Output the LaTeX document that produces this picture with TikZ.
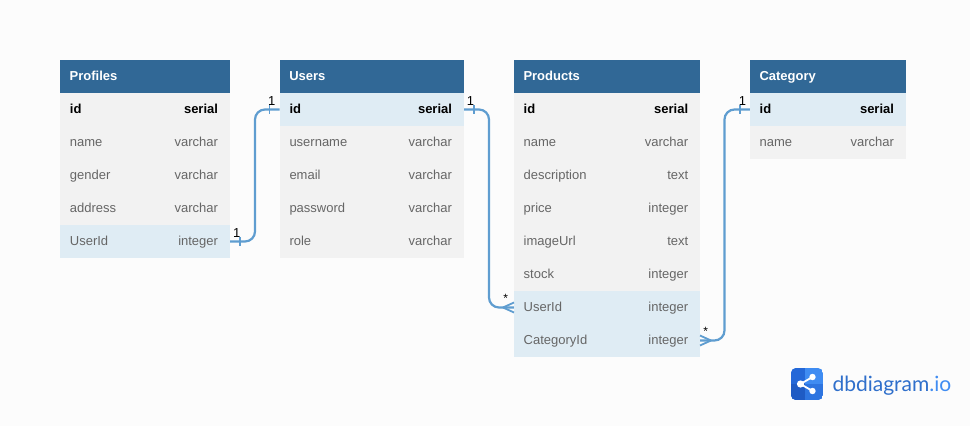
\documentclass[tikz,border=0pt]{standalone}
\usepackage{fontspec}
\setmainfont{Liberation Sans}
\newfontfamily\logofont{Lato}
\definecolor{bgc}{HTML}{FCFCFC}
\definecolor{headc}{HTML}{316896}
\definecolor{rowc}{HTML}{F2F2F2}
\definecolor{fkc}{HTML}{DFECF4}
\definecolor{txtc}{HTML}{666666}
\definecolor{linkc}{HTML}{5F9DD0}
\definecolor{logoa}{HTML}{2468D8}
\definecolor{logob}{HTML}{1F5BC4}
\definecolor{logoc}{HTML}{3F8CF2}
\definecolor{logod}{HTML}{2E75E0}
\definecolor{logot}{HTML}{2F6FCB}
\tikzset{
  x=1pt,y=-1pt,
  every node/.style={inner sep=0pt,outer sep=0pt},
  headbox/.style={fill=headc,anchor=north west,minimum height=33pt},
  rowbox/.style={fill=rowc,anchor=north west,minimum height=33pt},
  fkbox/.style={fill=fkc,anchor=north west,minimum height=33pt},
  headtext/.style={text=white,font=\fontsize{13}{13}\selectfont\bfseries,anchor=base west},
  nametext/.style={text=txtc,font=\fontsize{13}{13}\selectfont,anchor=base west},
  typetext/.style={text=txtc,font=\fontsize{13}{13}\selectfont,anchor=base east},
  pkname/.style={text=black,font=\fontsize{13}{13}\selectfont\bfseries,anchor=base west},
  pktype/.style={text=black,font=\fontsize{13}{13}\selectfont\bfseries,anchor=base east},
  link/.style={draw=linkc,line width=2.2pt,rounded corners=10pt},
  endmark/.style={draw=linkc,line width=1.8pt},
  cardtext/.style={text=black,font=\fontsize{13}{13}\selectfont},
  startext/.style={text=black,font=\fontsize{12}{12}\selectfont}
}
% #1 table id, #2 x, #3 width, #4 title
\newcommand{\tblhead}[4]{%
  \node[headbox,minimum width=#3pt] (#1) at (#2,60) {};
  \node[headtext] (#1-t) at (#2+9.7,80) {#4};
}
% #1 node, #2 x, #3 width, #4 row index, #5 box style, #6 name style, #7 type style, #8 name, #9 type
\newcommand{\tblrow}[9]{%
  \node[#5,minimum width=#3pt] (#1) at (#2,60+33*#4) {};
  \node[#6] (#1-n) at (#2+9.9,80+33*#4) {#8};
  \node[#7] (#1-y) at (#2+#3-12,80+33*#4) {#9};
}
\begin{document}
\begin{tikzpicture}
\path[use as bounding box,fill=bgc] (0,0) rectangle (970,426);
% Profiles
\tblhead{pr}{60}{170}{Profiles}
\tblrow{pr1}{60}{170}{1}{rowbox}{pkname}{pktype}{id}{serial}
\tblrow{pr2}{60}{170}{2}{rowbox}{nametext}{typetext}{name}{varchar}
\tblrow{pr3}{60}{170}{3}{rowbox}{nametext}{typetext}{gender}{varchar}
\tblrow{pr4}{60}{170}{4}{rowbox}{nametext}{typetext}{address}{varchar}
\tblrow{pr5}{60}{170}{5}{fkbox}{nametext}{typetext}{UserId}{integer}
% Users
\tblhead{us}{279.6}{184.4}{Users}
\tblrow{us1}{279.6}{184.4}{1}{fkbox}{pkname}{pktype}{id}{serial}
\tblrow{us2}{279.6}{184.4}{2}{rowbox}{nametext}{typetext}{username}{varchar}
\tblrow{us3}{279.6}{184.4}{3}{rowbox}{nametext}{typetext}{email}{varchar}
\tblrow{us4}{279.6}{184.4}{4}{rowbox}{nametext}{typetext}{password}{varchar}
\tblrow{us5}{279.6}{184.4}{5}{rowbox}{nametext}{typetext}{role}{varchar}
% Products
\tblhead{pd}{513.8}{186.4}{Products}
\tblrow{pd1}{513.8}{186.4}{1}{rowbox}{pkname}{pktype}{id}{serial}
\tblrow{pd2}{513.8}{186.4}{2}{rowbox}{nametext}{typetext}{name}{varchar}
\tblrow{pd3}{513.8}{186.4}{3}{rowbox}{nametext}{typetext}{description}{text}
\tblrow{pd4}{513.8}{186.4}{4}{rowbox}{nametext}{typetext}{price}{integer}
\tblrow{pd5}{513.8}{186.4}{5}{rowbox}{nametext}{typetext}{imageUrl}{text}
\tblrow{pd6}{513.8}{186.4}{6}{rowbox}{nametext}{typetext}{stock}{integer}
\tblrow{pd7}{513.8}{186.4}{7}{fkbox}{nametext}{typetext}{UserId}{integer}
\tblrow{pd8}{513.8}{186.4}{8}{fkbox}{nametext}{typetext}{CategoryId}{integer}
% Category
\tblhead{ca}{749.8}{156.2}{Category}
\tblrow{ca1}{749.8}{156.2}{1}{fkbox}{pkname}{pktype}{id}{serial}
\tblrow{ca2}{749.8}{156.2}{2}{rowbox}{nametext}{typetext}{name}{varchar}
% Connectors
\draw[link] (pr5.east) -- (255,241.5) -- (255,109.5) -- (us1.west);
\draw[link] (us1.east) -- (489,109.5) -- (489,307.5) -- (pd7.west);
\draw[link] (pd8.east) -- (724.5,340.5) -- (724.5,109.5) -- (ca1.west);
% One-side ticks
\draw[endmark] (240,237) -- (240,246);
\draw[endmark] (269.5,105) -- (269.5,114);
\draw[endmark] (474,105) -- (474,114);
\draw[endmark] (740,105) -- (740,114);
% Crow's feet
\draw[endmark] (503,307.5) -- (514,302.5);
\draw[endmark] (503,307.5) -- (514,312.5);
\draw[endmark] (711,340.5) -- (700,335.5);
\draw[endmark] (711,340.5) -- (700,345.5);
% Cardinalities
\node[cardtext] (c1) at (236.7,233.5) {1};
\node[cardtext] (c2) at (271.7,101.5) {1};
\node[cardtext] (c3) at (470.5,101.5) {1};
\node[cardtext] (c4) at (742.5,101.5) {1};
\node[startext] (c5) at (505.7,298) {*};
\node[startext] (c6) at (705.7,331) {*};
% Logo
\begin{scope}
\clip[rounded corners=5pt] (791,368) rectangle (823,400);
\fill[logoc] (791,368) rectangle (823,400);
\fill[logoa] (791,368) rectangle (805,400);
\fill[logod] (805,384) rectangle (823,400);
\fill[logob] (791,384) rectangle (805,400);
\end{scope}
\draw[white,line width=1.8pt] (812.5,377) -- (800.5,384) -- (812.5,391);
\fill[white] (800.5,384) circle[radius=3.6pt] (812.5,377) circle[radius=3.2pt] (812.5,391) circle[radius=3.2pt];
\node[anchor=base west,font=\logofont\fontsize{21}{21}\selectfont,text=logot] (logo) at (832.5,391) {dbdiagram\textcolor{logoc}{.io}};
\end{tikzpicture}
\end{document}
